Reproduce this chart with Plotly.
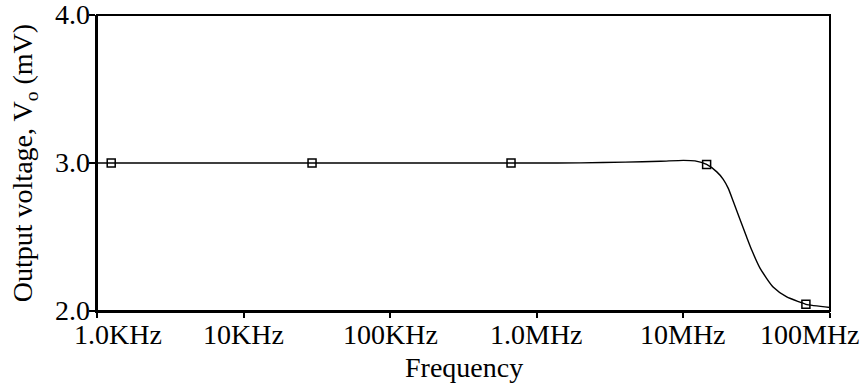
import math
import plotly.graph_objects as go

# Frequency response of the output voltage (PSpice-style AC sweep)
freq_hz = [1e3, 1e4, 1e5, 1e6, 2e6, 4e6, 7e6, 1.0e7, 1.2e7, 1.44e7, 1.69e7,
           1.87e7, 2.02e7, 2.19e7, 2.43e7, 2.70e7, 2.93e7, 3.33e7, 4.11e7,
           5.07e7, 6.24e7, 6.85e7, 1.0e8]
vout_mv = [3.000, 3.000, 3.000, 3.000, 3.001, 3.006, 3.012, 3.018, 3.014,
           2.990, 2.940, 2.890, 2.830, 2.740, 2.620, 2.500, 2.410, 2.290,
           2.160, 2.095, 2.060, 2.045, 2.024]

# Trace markers placed along the sweep
marker_hz = [1.25e3, 2.93e4, 6.67e5, 1.44e7, 6.85e7]
marker_mv = [3.000, 3.000, 3.000, 2.990, 2.045]

# Axis ticks
x_tick_vals = [1e3, 1e4, 1e5, 1e6, 1e7, 1e8]
x_tick_text = ["1.0KHz", "10KHz", "100KHz", "1.0MHz", "10MHz", "100MHz"]
y_tick_vals = [2.0, 3.0, 4.0]
y_tick_text = ["2.0", "3.0", "4.0"]

FONT = "Liberation Serif"
FS = 28

fig = go.Figure()
fig.add_trace(go.Scatter(
    x=freq_hz, y=vout_mv, mode="lines",
    line=dict(color="black", width=1.4, shape="spline", smoothing=0.6),
    hoverinfo="skip", showlegend=False,
))
fig.add_trace(go.Scatter(
    x=marker_hz, y=marker_mv, mode="markers",
    marker=dict(symbol="square-open", size=8, color="black",
                line=dict(color="black", width=1.5)),
    showlegend=False,
))

# x tick labels as annotations so the end labels stay inside the page
shifts = {0: 21, len(x_tick_text) - 1: -20}
for i, (v, t) in enumerate(zip(x_tick_vals, x_tick_text)):
    fig.add_annotation(
        x=math.log10(v), y=0, xref="x", yref="paper",
        text=t, showarrow=False, xanchor="center", yanchor="top",
        xshift=shifts.get(i, 0), yshift=-7, borderpad=0,
        font=dict(family=FONT, size=FS, color="black"),
    )

# y tick labels drawn at their data positions
for v, t in zip(y_tick_vals, y_tick_text):
    fig.add_annotation(
        x=0, y=v, xref="paper", yref="y",
        text=t, showarrow=False, xanchor="right", yanchor="middle",
        xshift=-6, yshift=1, borderpad=0,
        font=dict(family=FONT, size=FS, color="black"),
    )

# axis title for frequency, placed under the tick labels
fig.add_annotation(
    x=0.5, y=0, xref="paper", yref="paper", text="Frequency",
    showarrow=False, xanchor="center", yanchor="top", yshift=-39,
    font=dict(family=FONT, size=FS, color="black"),
)

# plot frame
fig.add_shape(type="rect", xref="paper", yref="paper", x0=0, x1=1, y0=0, y1=1,
              line=dict(color="black", width=2), layer="above")

fig.update_layout(
    width=866, height=387,
    margin=dict(l=97, r=36, t=15, b=76),
    paper_bgcolor="white", plot_bgcolor="white",
    font=dict(family=FONT, size=FS, color="black"),
    xaxis=dict(
        type="log", range=[3, 8], automargin=False,
        tickvals=x_tick_vals, showticklabels=False,
        ticks="outside", ticklen=5, tickwidth=1.5, tickcolor="black",
        showline=True, linecolor="black", linewidth=2,
        showgrid=False, zeroline=False,
    ),
    yaxis=dict(
        range=[2.0, 4.0], automargin=False,
        tickvals=y_tick_vals, showticklabels=False,
        ticks="outside", ticklen=6, tickwidth=1.5, tickcolor="black",
        showline=True, linecolor="black", linewidth=2,
        showgrid=False, zeroline=False,
        title=dict(text="Output voltage, V<sub>o</sub> (mV)", standoff=48,
                   font=dict(family=FONT, size=FS)),
    ),
)

fig.write_html("out.html")
